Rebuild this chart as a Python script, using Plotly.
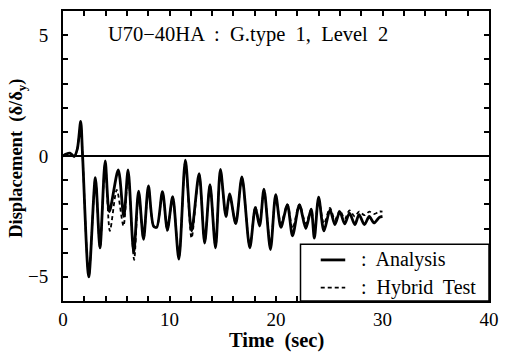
import plotly.graph_objects as go

# Analysis (solid) — time [sec], displacement [δ/δy]
t_analysis = [0.0, 0.3, 0.65, 1.05, 1.35, 1.66, 1.84, 2.42, 3.04, 3.47, 3.96, 4.35, 5.19, 5.71, 6.11, 6.64,
              7.1, 7.56, 8.02, 8.5, 8.8, 9.34, 9.8, 10.3, 10.88, 11.49, 12.07, 12.78, 13.3, 13.8, 14.32,
              14.78, 15.3, 15.64, 16.22, 16.8, 17.54, 18.06, 18.46, 18.87, 19.48, 19.97, 20.46, 21.07,
              21.55, 22.2, 22.8, 23.3, 23.6, 24.0, 24.5, 25.07, 25.53, 25.99, 26.45, 26.9, 27.4, 27.8,
              28.3, 28.76, 29.2, 29.7, 30.0]
d_analysis = [0.0, 0.08, 0.12, -0.02, 0.3, 1.43, 0.0, -5.0, -0.9, -3.8, -0.2, -2.3, -0.58, -2.5, -0.58, -4.0,
              -1.45, -3.45, -1.24, -2.9, -2.95, -1.47, -3.05, -1.68, -4.27, -0.17, -3.1, -0.73, -3.6, -1.19, -3.8,
              -0.55, -2.5, -1.57, -2.8, -0.86, -3.8, -2.13, -2.9, -1.37, -3.87, -1.6, -2.95, -2.02,
              -3.3, -2.02, -3.0, -2.2, -3.4, -1.7, -3.1, -2.23, -2.84, -2.3, -2.81, -2.36, -2.84, -2.43,
              -2.84, -2.5, -2.77, -2.54, -2.5]

# Hybrid test (dashed)
t_hybrid = [0.0, 0.3, 0.65, 1.05, 1.35, 1.66, 1.84, 2.42, 3.04, 3.47, 3.96, 4.4, 5.05, 5.68, 6.11, 6.68,
            7.1, 7.56, 8.02, 8.5, 8.8, 9.34, 9.8, 10.3, 10.88, 11.49, 12.07, 12.78, 13.3, 13.8, 14.32,
            14.78, 15.3, 15.64, 16.22, 16.8, 17.54, 18.06, 18.46, 18.87, 19.48, 19.97, 20.46, 21.07,
            21.55, 22.2, 22.8, 23.3, 23.6, 24.0, 24.5, 25.07, 25.53, 25.99, 26.45, 26.9, 27.4, 27.8,
            28.3, 28.76, 29.2, 29.7, 30.0]
d_hybrid = [0.0, 0.08, 0.12, -0.02, 0.3, 1.4, 0.0, -4.95, -0.95, -3.8, -0.3, -3.1, -1.4, -2.9, -0.75, -4.3,
            -1.5, -3.45, -1.3, -2.9, -2.95, -1.5, -3.1, -1.7, -4.2, -0.2, -3.4, -0.75, -3.55, -1.2, -3.75,
            -0.6, -2.5, -1.6, -2.8, -0.9, -3.75, -2.1, -2.8, -1.4, -3.7, -1.7, -2.8, -2.0,
            -3.0, -2.0, -2.8, -2.2, -3.1, -1.8, -2.8, -2.15, -2.65, -2.25, -2.6, -2.25, -2.5, -2.3,
            -2.45, -2.3, -2.4, -2.3, -2.3]

title_text = "U70\u221240HA  :  G.type  1,  Level  2"
x_title = "Time  (sec)"
y_title = "Displacement  (\u03b4/\u03b4<sub>y</sub>)"
legend_names = [":  Analysis", ":  Hybrid  Test"]

FONT = "Liberation Serif, Times New Roman, serif"
W, H = 508, 353
ML, MR, MT, MB = 63, 11, 9, 52
pw, ph = W - ML - MR, H - MT - MB


def px_to_paper(px, py):
    return (px - ML) / pw, (H - MB - py) / ph


fig = go.Figure()
fig.add_trace(go.Scatter(x=t_hybrid, y=d_hybrid, mode="lines",
                         line=dict(color="black", width=1.8, dash="4px,3px", shape="spline", smoothing=0.8),
                         showlegend=False))
fig.add_trace(go.Scatter(x=t_analysis, y=d_analysis, mode="lines",
                         line=dict(color="black", width=2.8, shape="spline", smoothing=0.8),
                         showlegend=False))

axis_common = dict(showline=True, linecolor="black", linewidth=2, mirror="ticks", ticks="inside",
                   ticklen=5, tickwidth=1.5, tickcolor="black", showgrid=False,
                   tickfont=dict(family=FONT, size=19, color="black"))
fig.update_xaxes(range=[0, 40], dtick=10, tick0=0,
                 minor=dict(dtick=2, ticks="inside", ticklen=5, tickwidth=1.5, tickcolor="black", showgrid=False),
                 zeroline=False, ticklabelstandoff=0, **axis_common)
fig.update_yaxes(range=[-6, 6], tickvals=[-5, 0, 5], ticktext=["\u22125", "0", "5"],
                 minor=dict(dtick=1, ticks="inside", ticklen=5, tickwidth=1.5, tickcolor="black", showgrid=False),
                 zeroline=True, zerolinecolor="black", zerolinewidth=1.5, ticklabelstandoff=9, **axis_common)

# legend box (drawn manually)
fig.add_shape(type="rect", xref="x", yref="y", x0=22.3, x1=40, y0=-6, y1=-3.65,
              line=dict(color="black", width=1.5), fillcolor="white", layer="above")
fig.add_shape(type="line", xref="x", yref="y", x0=24.2, x1=26.5, y0=-4.3, y1=-4.3,
              line=dict(color="black", width=2.8))
fig.add_shape(type="line", xref="x", yref="y", x0=24.2, x1=26.5, y0=-5.45, y1=-5.45,
              line=dict(color="black", width=1.8, dash="4px,3px"))
for yv, name in zip([-4.3, -5.45], legend_names):
    fig.add_annotation(x=27.8, y=yv, xref="x", yref="y", text=name, showarrow=False,
                       xanchor="left", yanchor="middle", font=dict(family=FONT, size=20, color="black"))

# chart title inside plot
tx, ty = px_to_paper(251, 33)
fig.add_annotation(x=tx, y=ty, xref="paper", yref="paper", text=title_text, showarrow=False,
                   xanchor="center", yanchor="middle", font=dict(family=FONT, size=20.5, color="black"))

# axis titles
ax, ay = px_to_paper(281, 341)
fig.add_annotation(x=ax, y=ay, xref="paper", yref="paper", text="<b>" + x_title + "</b>",
                   showarrow=False, xanchor="center", yanchor="middle",
                   font=dict(family=FONT, size=20.5, color="black"))
bx, by = px_to_paper(17, 157)
fig.add_annotation(x=bx, y=by, xref="paper", yref="paper", text="<b>" + y_title + "</b>",
                   showarrow=False, textangle=-90, xanchor="center", yanchor="middle",
                   font=dict(family=FONT, size=18.5, color="black"))

fig.update_layout(
    width=W, height=H,
    margin=dict(l=ML, r=MR, t=MT, b=MB),
    paper_bgcolor="white", plot_bgcolor="white",
    showlegend=False,
)

fig.write_html("out.html")
